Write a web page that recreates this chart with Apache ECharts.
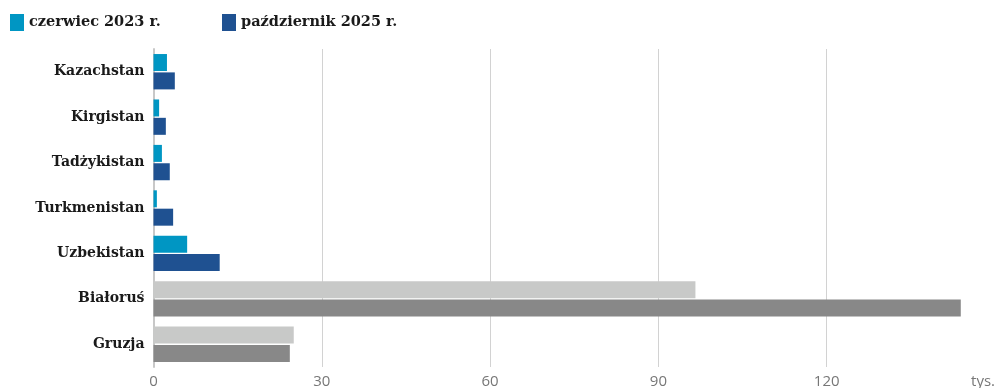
<!DOCTYPE html>
<html><head><meta charset="utf-8">
<script src="https://cdn.jsdelivr.net/npm/echarts@6/dist/echarts.min.js"></script>
<style>html,body{margin:0;padding:0;background:#fff}#c{width:995px;height:388px}</style>
</head><body><div id="c"></div>
<script>
var categories = ['Kazachstan','Kirgistan','Tadżykistan','Turkmenistan','Uzbekistan','Białoruś','Gruzja'];
var seriesNames = ['czerwiec 2023 r.','październik 2025 r.'];
var values2023 = [2.4, 1.0, 1.5, 0.6, 6.0, 96.6, 25.0];
var values2025 = [3.8, 2.2, 2.9, 3.5, 11.8, 143.9, 24.3];
var greyCategories = ['Białoruś','Gruzja'];
var xTicks = [0, 30, 60, 90, 120, 150];
var unitLabel = 'tys.';

var blue1 = '#0096c3', blue2 = '#1f5191', grey1 = '#c8c9c8', grey2 = '#888888';
function mk(vals, grey){
  return vals.map(function(v,i){
    return greyCategories.indexOf(categories[i])>=0 ? {value:v,itemStyle:{color:grey}} : v;
  });
}
var font = 'DejaVu Serif';
var chart = echarts.init(document.getElementById('c'));
chart.setOption({
  animation:false,
  legend:[
    {left:10, top:14, padding:0, itemWidth:14, itemHeight:17, itemGap:0, icon:'rect', data:[seriesNames[0]],
     textStyle:{fontFamily:font, fontWeight:'bold', fontSize:14.5, color:'#1a1a1a'}},
    {left:222, top:14, padding:0, itemWidth:14, itemHeight:17, itemGap:0, icon:'rect', data:[seriesNames[1]],
     textStyle:{fontFamily:font, fontWeight:'bold', fontSize:14.5, color:'#1a1a1a'}}
  ],
  grid:{left:153.5, right:0, top:49, height:318, containLabel:false, outerBoundsMode:'none'},
  xAxis:{type:'value', min:xTicks[0], max:xTicks[xTicks.length-1], interval:30,
    axisLine:{show:false}, axisTick:{show:false},
    splitLine:{showMaxLine:false, lineStyle:{color:'#d2d2d2', width:1}},
    axisLabel:{margin:7, fontFamily:'Open Sans', fontSize:15, color:'#777',
      alignMaxLabel:'right',
      formatter:function(v){ return v===xTicks[xTicks.length-1] ? unitLabel : String(v); }}
  },
  yAxis:{type:'category', data:categories, inverse:true,
    axisLine:{show:true, lineStyle:{color:'#c8c8c8', width:2}}, axisTick:{show:false},
    axisLabel:{margin:9, fontFamily:font, fontWeight:'bold', fontSize:14, color:'#1a1a1a'}
  },
  series:[
    {name:seriesNames[0], type:'bar', data:mk(values2023, grey1), itemStyle:{color:blue1}, barWidth:17, barGap:'8%'},
    {name:seriesNames[1], type:'bar', data:mk(values2025, grey2), itemStyle:{color:blue2}, barWidth:17, barGap:'8%'}
  ]
});
</script></body></html>
